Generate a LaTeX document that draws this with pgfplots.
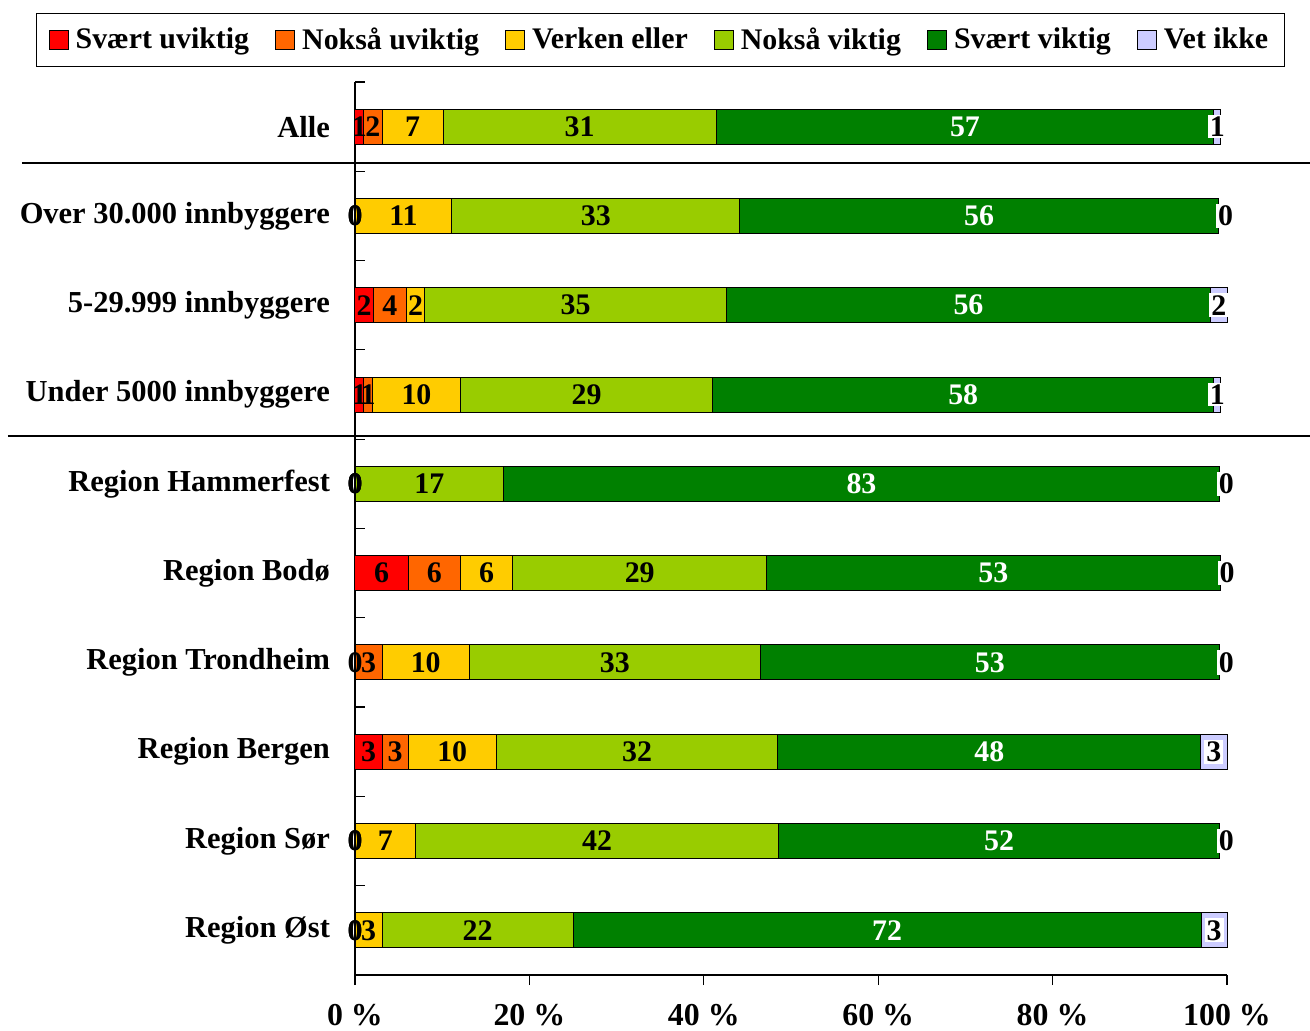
\documentclass[border=0pt]{standalone}
\usepackage{pgfplots}
\pgfplotsset{compat=1.18}
\usepackage{pgfplotstable}
\usepackage{fontspec}
\setmainfont{Liberation Serif}
\usetikzlibrary{calc}
\definecolor{cR}{HTML}{FF0000}
\definecolor{cO}{HTML}{FF6600}
\definecolor{cY}{HTML}{FFCC00}
\definecolor{cLG}{HTML}{99CC00}
\definecolor{cG}{HTML}{008000}
\definecolor{cV}{HTML}{CCCCFF}
% zero shares are stored as 0.01 so that their "0" labels are drawn
\pgfplotstableread{
y r o ye lg g v rl ol yl lgl gl vl
9 1.0 2.1 7.0 31.3 57.1 0.8 1 2 7 31 57 1
8 0.01 0.01 11.1 33.0 54.9 0.01 0 0 11 33 56 0
7 2.1 3.8 2.1 34.6 55.5 1.9 2 4 2 35 56 2
6 1.0 1.0 10.1 28.9 57.5 0.8 1 1 10 29 58 1
5 0.01 0.01 0.01 17.0 82.1 0.01 0 0 0 17 83 0
4 6.1 6.0 6.0 29.1 52.0 0.01 6 6 6 29 53 0
3 0.01 3.1 10.0 33.4 52.6 0.01 0 3 10 33 53 0
2 3.1 3.0 10.1 32.3 48.5 3.0 3 3 10 32 48 3
1 0.01 0.01 6.9 41.7 50.5 0.01 0 0 7 42 52 0
0 0.01 0.01 3.1 21.9 72.0 3.0 0 0 3 22 72 3
}\data
\begin{document}
\begin{tikzpicture}[font=\fontsize{15}{18}\selectfont\bfseries]
\begin{axis}[
  name=ax,
  scale only axis, width=436bp, height=446.5bp,
  xbar stacked, bar width=17.5bp,
  xmin=0, xmax=100, ymin=-0.5, ymax=9.5,
  axis x line*=bottom, axis y line*=left,
  axis line style={-, line width=0.6bp, black},
  clip=false,
  xtick={0,20,40,60,80,100},
  xticklabels={{0 \%},{20 \%},{40 \%},{60 \%},{80 \%},{100 \%}},
  xticklabel style={yshift=-11bp, font=\fontsize{16}{19}\selectfont\bfseries},
  major x tick style={black, line width=0.6bp, yshift=-5bp},
  major tick length=5bp,
  ytick={0,...,9},
  yticklabels={Region Øst,Region Sør,Region Bergen,Region Trondheim,Region Bodø,Region Hammerfest,Under 5000 innbyggere,5-29.999 innbyggere,Over 30.000 innbyggere,Alle},
  yticklabel style={font=\fontsize{15.3}{18}\selectfont\bfseries, xshift=-9bp},
  major y tick style={draw=none},
  minor ytick={-0.5,0.5,...,9.5},
  minor y tick style={black, line width=0.6bp},
  minor tick length=5bp,
  point meta=explicit symbolic,
  nodes near coords={\pgfplotspointmeta},
  every node near coord/.append style={anchor=center, font=\fontsize{15}{18}\selectfont\bfseries, inner sep=1pt},
  sq/.style={legend image code/.code={\draw[##1, draw=black, line width=0.5bp] (0bp,-4.75bp) rectangle (9.5bp,4.75bp); \path (11bp,0bp);}},
  legend columns=6,
  legend style={at={(0.3503,1.047)}, anchor=center, draw=black, line width=0.6bp,
    font=\fontsize{15}{18}\selectfont\bfseries,
    /tikz/every even column/.append style={column sep=11bp},
    inner ysep=5bp, inner xsep=6bp},
]
\addplot+[sq, fill=cR, draw=black, line width=0.5bp,
  every node near coord/.append style={text=black}]
  table[x=r, y=y, meta=rl] {\data};
\addplot+[sq, fill=cO, draw=black, line width=0.5bp,
  every node near coord/.append style={text=black}]
  table[x=o, y=y, meta=ol] {\data};
\addplot+[sq, fill=cY, draw=black, line width=0.5bp,
  every node near coord/.append style={text=black}]
  table[x=ye, y=y, meta=yl] {\data};
\addplot+[sq, fill=cLG, draw=black, line width=0.5bp,
  every node near coord/.append style={text=black}]
  table[x=lg, y=y, meta=lgl] {\data};
\addplot+[sq, fill=cG, draw=black, line width=0.5bp,
  every node near coord/.append style={text=white}]
  table[x=g, y=y, meta=gl] {\data};
\addplot+[sq, fill=cV, draw=black, line width=0.5bp, visualization depends on={\thisrow{v} \as \segw},
  every node near coord/.append style={xshift={(\segw<0.5)*3.5bp}, text=black, fill=white}]
  table[x=v, y=y, meta=vl] {\data};
\legend{Svært uviktig,Nokså uviktig,Verken eller,Nokså viktig,Svært viktig,Vet ikke}
\draw[line width=1bp] (axis cs:-38.2,8.593) -- (axis cs:109.5,8.593);
\draw[line width=1bp] (axis cs:-39.8,5.536) -- (axis cs:109.5,5.536);
\end{axis}
\pgfresetboundingbox
\path[use as bounding box] ($(ax.south west)+(-177.5bp,-28bp)$) rectangle ($(ax.south west)+(477.5bp,487.5bp)$);
\end{tikzpicture}
\end{document}
